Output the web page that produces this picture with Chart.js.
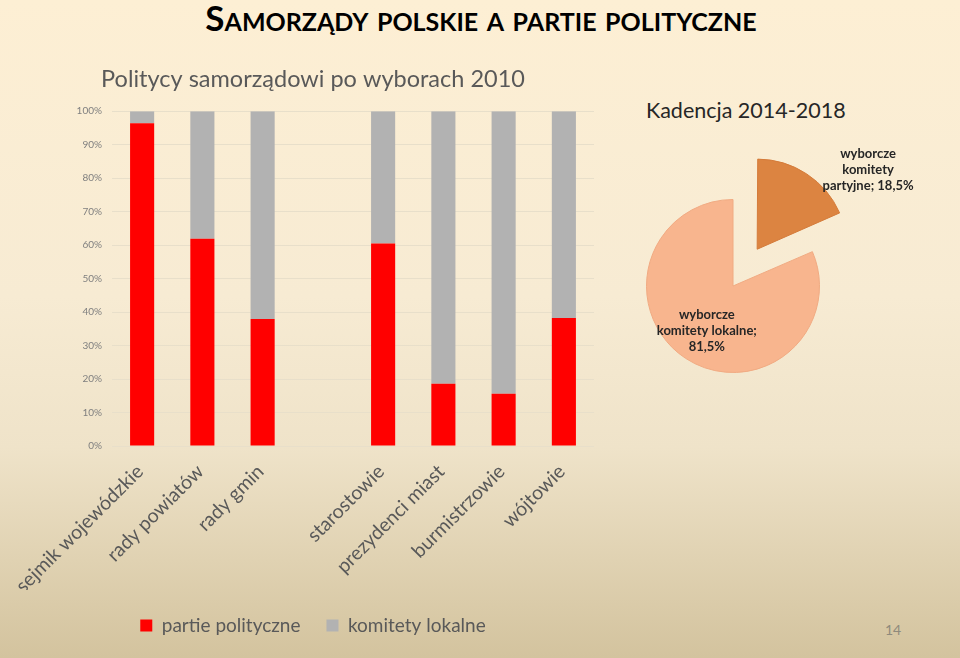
<!DOCTYPE html>
<html lang="pl">
<head>
<meta charset="utf-8">
<script src="https://cdn.jsdelivr.net/npm/chart.js@4/dist/chart.umd.min.js"></script>
<style>
  html, body { margin: 0; padding: 0; }
  body {
    width: 960px; height: 658px; overflow: hidden; position: relative;
    background: linear-gradient(180deg, #fdefd4 0%, #f7ebd3 45%, #efe3c9 68%, #d3c39e 100%);
    font-family: Lato, sans-serif;
  }
  #title {
    position: absolute; left: 0; top: -4px; width: 962px; text-align: center;
    font-weight: bold; font-size: 35px; font-variant: small-caps; color: #000;
  }
  #pieTitle { position: absolute; left: 646px; top: 97px; font-size: 21.5px; color: #262626; }
  #bars { position: absolute; left: 0; top: 50px; }
  #pie { position: absolute; left: 600px; top: 120px; }
  #page { position: absolute; left: 885px; top: 621px; font-size: 14px; color: #8f8a7c; }
</style>
</head>
<body>
<div id="title">Samorządy polskie a partie polityczne</div>
<div id="pieTitle">Kadencja 2014-2018</div>
<canvas id="bars" width="626" height="608"></canvas>
<canvas id="pie" width="360" height="332"></canvas>
<div id="page">14</div>
<script>
const categories = ['sejmik wojewódzkie', 'rady powiatów', 'rady gmin', '', 'starostowie', 'prezydenci miast', 'burmistrzowie', 'wójtowie'];
const partie = [96.4, 61.9, 37.9, null, 60.5, 18.6, 15.6, 38.2];
const komitety = [3.6, 38.1, 62.1, null, 39.5, 81.4, 84.4, 61.8];
const yStep = 10;

const pieCategories = [['wyborcze', 'komitety', 'partyjne'], ['wyborcze', 'komitety lokalne']];
const pieValues = [18.5, 81.5];

Chart.defaults.font.family = 'Lato';

new Chart(document.getElementById('bars'), {
  type: 'bar',
  data: {
    labels: categories,
    datasets: [
      { label: 'partie polityczne', data: partie, backgroundColor: '#ff0000' },
      { label: 'komitety lokalne', data: komitety, backgroundColor: '#b2b2b2' }
    ]
  },
  options: {
    responsive: false,
    animation: false,
    categoryPercentage: 1,
    barPercentage: 0.4,
    layout: { padding: { bottom: 13 } },
    plugins: {
      title: {
        display: true,
        text: 'Politycy samorządowi po wyborach 2010',
        color: '#595959',
        font: { size: 23.5, weight: 'normal' },
        padding: { top: 15, bottom: 18 }
      },
      legend: {
        position: 'bottom',
        labels: { boxWidth: 12, boxHeight: 12, color: '#595959', font: { size: 19 }, padding: 26 }
      },
      tooltip: { enabled: false }
    },
    scales: {
      x: {
        stacked: true,
        grid: { display: false, drawTicks: false },
        border: { display: false },
        ticks: { color: '#595959', font: { size: 19.5 }, minRotation: 45, maxRotation: 45, autoSkip: false, padding: 14, labelOffset: -2 },
        afterFit: s => { s.height = 144; }
      },
      y: {
        stacked: true,
        min: 0,
        max: 100,
        ticks: { stepSize: yStep, callback: v => v + '%', color: '#7f7f7f', font: { size: 10 }, padding: 10 },
        grid: { color: '#e8dfca', drawTicks: false },
        border: { display: false },
        afterFit: s => { s.width = 112; }
      },
      y2: {
        type: 'linear',
        position: 'right',
        grid: { display: false, drawTicks: false },
        border: { display: false },
        ticks: { display: false },
        afterFit: s => { s.width = 32; }
      }
    }
  }
});

// label lines come from the category; the value goes on the last line if it fits
const pieLabels = {
  id: 'pieLabels',
  afterDatasetsDraw(chart, args, opts) {
    const ctx = chart.ctx;
    const meta = chart.getDatasetMeta(0);
    const values = chart.data.datasets[0].data;
    ctx.save();
    ctx.font = 'bold 13px Lato';
    ctx.fillStyle = '#262626';
    ctx.textAlign = 'center';
    ctx.textBaseline = 'middle';
    meta.data.forEach((arc, i) => {
      const a = (arc.startAngle + arc.endAngle) / 2 + opts.angle[i] * Math.PI / 180;
      const r = arc.outerRadius * opts.dist[i];
      const x = arc.x + Math.cos(a) * r;
      const y = arc.y + Math.sin(a) * r;
      const lines = chart.data.labels[i].slice();
      const val = values[i].toFixed(1).replace('.', ',') + '%';
      const last = lines[lines.length - 1] + '; ' + val;
      if (ctx.measureText(last).width <= opts.wrap) {
        lines[lines.length - 1] = last;
      } else {
        lines[lines.length - 1] += ';';
        lines.push(val);
      }
      lines.forEach((ln, k) => {
        ctx.fillText(ln, x, y + (k - (lines.length - 1) / 2) * 16);
      });
    });
    ctx.restore();
  }
};

new Chart(document.getElementById('pie'), {
  type: 'pie',
  data: {
    labels: pieCategories,
    datasets: [{
      data: pieValues,
      backgroundColor: ['#dc8441', '#f8b58e'],
      borderColor: ['#d47b3a', '#f0aa82'],
      borderWidth: 1,
      offset: [176, 0],
      clip: false
    }]
  },
  options: {
    responsive: false,
    animation: false,
    radius: 86.5,
    layout: { padding: { right: 94 } },
    plugins: {
      legend: { display: false },
      tooltip: { enabled: false },
      pieLabels: { dist: [2.06, 0.6], angle: [16, -3], wrap: 110 }
    }
  },
  plugins: [pieLabels]
});
</script>
</body>
</html>
